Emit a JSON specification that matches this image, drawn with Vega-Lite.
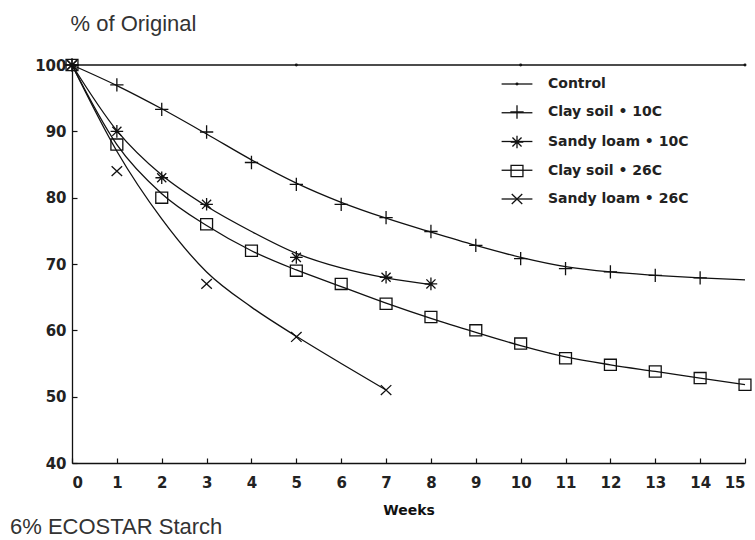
{
  "$schema": "https://vega.github.io/schema/vega-lite/v6.json",
  "width": 673,
  "height": 398,
  "autosize": {"type": "none"},
  "padding": {"left": 72, "top": 65, "right": 10, "bottom": 77},
  "background": "white",
  "title": {
    "text": "6% ECOSTAR Starch",
    "orient": "bottom",
    "anchor": "start",
    "frame": "group",
    "dx": -62,
    "offset": 0,
    "font": "Liberation Sans",
    "fontSize": 22,
    "fontWeight": "normal",
    "color": "#333"
  },
  "config": {
    "view": {"stroke": null},
    "axis": {
      "grid": false,
      "domainColor": "#111",
      "domainWidth": 1.3,
      "tickColor": "#111",
      "tickWidth": 1.2,
      "tickSize": -5,
      "labelFont": "DejaVu Sans",
      "labelFontSize": 15,
      "labelFontWeight": "bold",
      "labelColor": "#222"
    },
    "legend": {
      "symbolSize": 196,
      "symbolStrokeWidth": 1.3,
      "symbolStrokeColor": "#111",
      "labelFont": "DejaVu Sans",
      "labelFontSize": 14,
      "labelFontWeight": "bold",
      "labelColor": "#222"
    }
  },
  "datasets": {
    "curves": [
      {"series": "Control", "week": 0, "pct": 100},
      {"series": "Control", "week": 15, "pct": 100},
      {"series": "Clay soil • 10C", "week": 0, "pct": 100},
      {"series": "Clay soil • 10C", "week": 1, "pct": 96.9},
      {"series": "Clay soil • 10C", "week": 2, "pct": 93.4},
      {"series": "Clay soil • 10C", "week": 3, "pct": 89.6},
      {"series": "Clay soil • 10C", "week": 4, "pct": 85.7},
      {"series": "Clay soil • 10C", "week": 5, "pct": 82.2},
      {"series": "Clay soil • 10C", "week": 6, "pct": 79.3},
      {"series": "Clay soil • 10C", "week": 7, "pct": 76.9},
      {"series": "Clay soil • 10C", "week": 8, "pct": 74.8},
      {"series": "Clay soil • 10C", "week": 9, "pct": 72.8},
      {"series": "Clay soil • 10C", "week": 10, "pct": 71},
      {"series": "Clay soil • 10C", "week": 11, "pct": 69.6},
      {"series": "Clay soil • 10C", "week": 12, "pct": 68.8},
      {"series": "Clay soil • 10C", "week": 13, "pct": 68.3},
      {"series": "Clay soil • 10C", "week": 14, "pct": 67.9},
      {"series": "Clay soil • 10C", "week": 15, "pct": 67.6},
      {"series": "Sandy loam • 10C", "week": 0, "pct": 100},
      {"series": "Sandy loam • 10C", "week": 1, "pct": 90.1},
      {"series": "Sandy loam • 10C", "week": 2, "pct": 83.4},
      {"series": "Sandy loam • 10C", "week": 3, "pct": 78.7},
      {"series": "Sandy loam • 10C", "week": 4, "pct": 74.9},
      {"series": "Sandy loam • 10C", "week": 5, "pct": 71.6},
      {"series": "Sandy loam • 10C", "week": 6, "pct": 69.4},
      {"series": "Sandy loam • 10C", "week": 7, "pct": 67.9},
      {"series": "Sandy loam • 10C", "week": 8, "pct": 66.9},
      {"series": "Clay soil • 26C", "week": 0, "pct": 100},
      {"series": "Clay soil • 26C", "week": 1, "pct": 88},
      {"series": "Clay soil • 26C", "week": 2, "pct": 80.6},
      {"series": "Clay soil • 26C", "week": 3, "pct": 75.8},
      {"series": "Clay soil • 26C", "week": 4, "pct": 72},
      {"series": "Clay soil • 26C", "week": 5, "pct": 69.1},
      {"series": "Clay soil • 26C", "week": 6, "pct": 66.6},
      {"series": "Clay soil • 26C", "week": 7, "pct": 64.1},
      {"series": "Clay soil • 26C", "week": 8, "pct": 61.8},
      {"series": "Clay soil • 26C", "week": 9, "pct": 59.7},
      {"series": "Clay soil • 26C", "week": 10, "pct": 57.7},
      {"series": "Clay soil • 26C", "week": 11, "pct": 56},
      {"series": "Clay soil • 26C", "week": 12, "pct": 54.8},
      {"series": "Clay soil • 26C", "week": 13, "pct": 53.8},
      {"series": "Clay soil • 26C", "week": 14, "pct": 52.8},
      {"series": "Clay soil • 26C", "week": 15, "pct": 51.8},
      {"series": "Sandy loam • 26C", "week": 0, "pct": 100},
      {"series": "Sandy loam • 26C", "week": 1, "pct": 87},
      {"series": "Sandy loam • 26C", "week": 2, "pct": 76.8},
      {"series": "Sandy loam • 26C", "week": 3, "pct": 68.8},
      {"series": "Sandy loam • 26C", "week": 4, "pct": 63.5},
      {"series": "Sandy loam • 26C", "week": 5, "pct": 59.1},
      {"series": "Sandy loam • 26C", "week": 6, "pct": 55},
      {"series": "Sandy loam • 26C", "week": 7, "pct": 51}
    ],
    "markers": [
      {"series": "Control", "week": 0, "pct": 100},
      {"series": "Control", "week": 5, "pct": 100},
      {"series": "Control", "week": 10, "pct": 100},
      {"series": "Control", "week": 15, "pct": 100},
      {"series": "Clay soil • 10C", "week": 0, "pct": 100},
      {"series": "Clay soil • 10C", "week": 1, "pct": 97},
      {"series": "Clay soil • 10C", "week": 2, "pct": 93.3},
      {"series": "Clay soil • 10C", "week": 3, "pct": 89.9},
      {"series": "Clay soil • 10C", "week": 4, "pct": 85.3},
      {"series": "Clay soil • 10C", "week": 5, "pct": 82},
      {"series": "Clay soil • 10C", "week": 6, "pct": 79},
      {"series": "Clay soil • 10C", "week": 7, "pct": 77},
      {"series": "Clay soil • 10C", "week": 8, "pct": 74.9},
      {"series": "Clay soil • 10C", "week": 9, "pct": 72.8},
      {"series": "Clay soil • 10C", "week": 10, "pct": 70.8},
      {"series": "Clay soil • 10C", "week": 11, "pct": 69.3},
      {"series": "Clay soil • 10C", "week": 12, "pct": 68.8},
      {"series": "Clay soil • 10C", "week": 13, "pct": 68.3},
      {"series": "Clay soil • 10C", "week": 14, "pct": 67.9},
      {"series": "Sandy loam • 10C", "week": 0, "pct": 100},
      {"series": "Sandy loam • 10C", "week": 1, "pct": 90},
      {"series": "Sandy loam • 10C", "week": 2, "pct": 83},
      {"series": "Sandy loam • 10C", "week": 3, "pct": 79},
      {"series": "Sandy loam • 10C", "week": 5, "pct": 71},
      {"series": "Sandy loam • 10C", "week": 7, "pct": 68},
      {"series": "Sandy loam • 10C", "week": 8, "pct": 67},
      {"series": "Clay soil • 26C", "week": 0, "pct": 100},
      {"series": "Clay soil • 26C", "week": 1, "pct": 88},
      {"series": "Clay soil • 26C", "week": 2, "pct": 80},
      {"series": "Clay soil • 26C", "week": 3, "pct": 76},
      {"series": "Clay soil • 26C", "week": 4, "pct": 72},
      {"series": "Clay soil • 26C", "week": 5, "pct": 69},
      {"series": "Clay soil • 26C", "week": 6, "pct": 67},
      {"series": "Clay soil • 26C", "week": 7, "pct": 64},
      {"series": "Clay soil • 26C", "week": 8, "pct": 62},
      {"series": "Clay soil • 26C", "week": 9, "pct": 60},
      {"series": "Clay soil • 26C", "week": 10, "pct": 58},
      {"series": "Clay soil • 26C", "week": 11, "pct": 55.8},
      {"series": "Clay soil • 26C", "week": 12, "pct": 54.8},
      {"series": "Clay soil • 26C", "week": 13, "pct": 53.8},
      {"series": "Clay soil • 26C", "week": 14, "pct": 52.8},
      {"series": "Clay soil • 26C", "week": 15, "pct": 51.8},
      {"series": "Sandy loam • 26C", "week": 0, "pct": 100},
      {"series": "Sandy loam • 26C", "week": 1, "pct": 84},
      {"series": "Sandy loam • 26C", "week": 3, "pct": 67},
      {"series": "Sandy loam • 26C", "week": 5, "pct": 59},
      {"series": "Sandy loam • 26C", "week": 7, "pct": 51}
    ]
  },
  "layer": [
    {
      "data": {"name": "curves"},
      "mark": {"type": "line", "interpolate": "monotone", "strokeWidth": 1.3},
      "encoding": {
        "x": {
          "field": "week",
          "type": "quantitative",
          "scale": {"domain": [0, 15], "nice": false, "zero": false},
          "axis": {
            "title": "Weeks",
            "values": [0, 1, 2, 3, 4, 5, 6, 7, 8, 9, 10, 11, 12, 13, 14, 15],
            "labelPadding": 17,
            "titleFont": "DejaVu Sans",
            "titleFontSize": 14,
            "titleFontWeight": "bold",
            "titleColor": "#111",
            "titlePadding": 13
          }
        },
        "y": {
          "field": "pct",
          "type": "quantitative",
          "scale": {"domain": [40, 100], "nice": false, "zero": false},
          "axis": {
            "title": "% of Original",
            "values": [40, 50, 60, 70, 80, 90, 100],
            "labelPadding": 11,
            "titleAngle": 0,
            "titleAlign": "left",
            "titleBaseline": "alphabetic",
            "titleX": -2,
            "titleY": -35,
            "titleFont": "Liberation Sans",
            "titleFontSize": 22,
            "titleFontWeight": "normal",
            "titleColor": "#333"
          }
        },
        "color": {
          "field": "series",
          "type": "nominal",
          "sort": ["Control", "Clay soil • 10C", "Sandy loam • 10C", "Clay soil • 26C", "Sandy loam • 26C"],
          "scale": {"range": ["#111", "#111", "#111", "#111", "#111"]},
          "legend": {
            "title": null,
            "orient": "none",
            "legendX": 437,
            "legendY": 11,
            "padding": 0,
            "symbolOffset": 0,
            "labelOffset": 23,
            "rowPadding": 13.75,
            "symbolType": "M-2.2,0L2.2,0",
            "labelOpacity": 0
          }
        }
      }
    },
    {
      "data": {"name": "markers"},
      "mark": {"type": "point", "filled": false, "color": "#111", "strokeWidth": 1.3, "opacity": 1, "size": 196},
      "encoding": {
        "x": {"field": "week", "type": "quantitative"},
        "y": {"field": "pct", "type": "quantitative"},
        "shape": {
          "field": "series",
          "type": "nominal",
          "scale": {
            "domain": ["Control", "Clay soil • 10C", "Sandy loam • 10C", "Clay soil • 26C", "Sandy loam • 26C"],
            "range": [
              "M-0.12,0A0.12,0.12 0 1,1 0.12,0A0.12,0.12 0 1,1 -0.12,0Z",
              "M-0.95,0L0.95,0M0,-0.95L0,0.95",
              "M-0.9,0L0.9,0M0,-0.9L0,0.9M-0.65,-0.65L0.65,0.65M-0.65,0.65L0.65,-0.65",
              "M-0.85,-0.8L0.85,-0.8L0.85,0.8L-0.85,0.8Z",
              "M-0.75,-0.7L0.75,0.7M-0.75,0.7L0.75,-0.7"
            ]
          },
          "legend": {
            "title": null,
            "orient": "none",
            "legendX": 437,
            "legendY": 11,
            "padding": 0,
            "symbolOffset": 0,
            "labelOffset": 23,
            "rowPadding": 11
          }
        }
      }
    }
  ]
}
